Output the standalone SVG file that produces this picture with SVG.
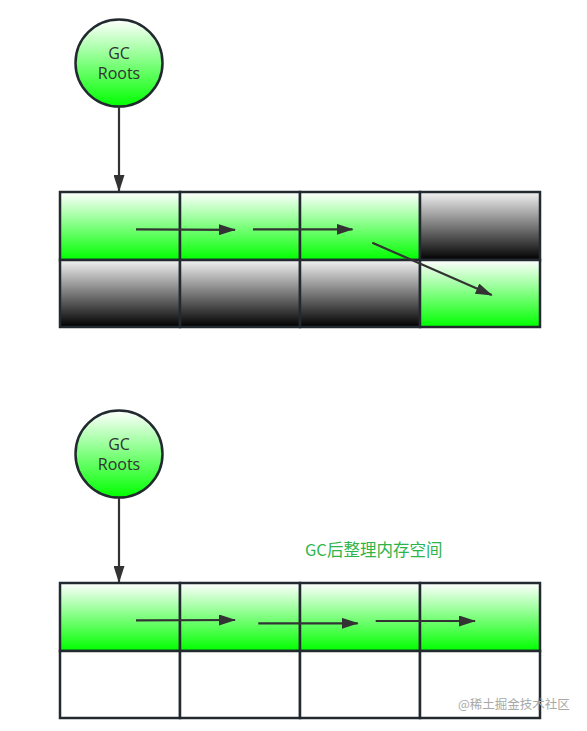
<svg xmlns="http://www.w3.org/2000/svg" width="587" height="731" viewBox="0 0 587 731">
<style>
.cell{stroke:#222a30;stroke-width:2.5}
.g{fill:url(#gGreen)}
.k{fill:url(#gGray)}
.w{fill:#ffffff}
.node{fill:url(#gGreen);stroke:#222a30;stroke-width:2.5}
.lbl{font-family:"Open Sans","Noto Sans",sans-serif;font-size:16px;fill:#333;text-anchor:middle}
.edge{stroke:#333;stroke-width:2.2;fill:none;marker-end:url(#ah)}
</style>
<defs>
<linearGradient id="gGreen" x1="0" y1="0" x2="0" y2="1">
<stop offset="0" stop-color="#ffffff"/>
<stop offset="1" stop-color="#00ff00"/>
</linearGradient>
<linearGradient id="gGray" x1="0" y1="0" x2="0" y2="1">
<stop offset="0" stop-color="#f2f2f2"/>
<stop offset="1" stop-color="#000000"/>
</linearGradient>
<marker id="ah" viewBox="0 0 17 11" refX="16" refY="5.5" markerWidth="17" markerHeight="11" markerUnits="userSpaceOnUse" orient="auto">
<path d="M0,0 L17,5.5 L0,11 z" fill="#333"/>
</marker>
</defs>
<rect width="587" height="731" fill="#ffffff"/>
<g id="roots1">
<circle class="node" cx="119" cy="63" r="43.5"/>
<text class="lbl" x="119" y="59">GC</text>
<text class="lbl" x="119" y="79">Roots</text>
</g>
<g id="heap1">
<rect class="cell g" x="60" y="192" width="120" height="68"/>
<rect class="cell g" x="180" y="192" width="120" height="68"/>
<rect class="cell g" x="300" y="192" width="120" height="68"/>
<rect class="cell k" x="420" y="192" width="120" height="68"/>
<rect class="cell k" x="60" y="260" width="120" height="67"/>
<rect class="cell k" x="180" y="260" width="120" height="67"/>
<rect class="cell k" x="300" y="260" width="120" height="67"/>
<rect class="cell g" x="420" y="260" width="120" height="67"/>
</g>
<g id="roots2">
<circle class="node" cx="119" cy="454" r="43.5"/>
<text class="lbl" x="119" y="450">GC</text>
<text class="lbl" x="119" y="470">Roots</text>
</g>
<g id="heap2">
<rect class="cell g" x="60" y="583" width="120" height="68"/>
<rect class="cell g" x="180" y="583" width="120" height="68"/>
<rect class="cell g" x="300" y="583" width="120" height="68"/>
<rect class="cell g" x="420" y="583" width="120" height="68"/>
<rect class="cell w" x="60" y="651" width="120" height="67"/>
<rect class="cell w" x="180" y="651" width="120" height="67"/>
<rect class="cell w" x="300" y="651" width="120" height="67"/>
<rect class="cell w" x="420" y="651" width="120" height="67"/>
</g>
<g id="connectors">
<line class="edge" x1="119" y1="107" x2="119" y2="191"/>
<line class="edge" x1="136" y1="229.3" x2="235" y2="229.8"/>
<line class="edge" x1="253" y1="229.3" x2="352.5" y2="229.3"/>
<line class="edge" x1="372.3" y1="242.7" x2="491.7" y2="295"/>
<line class="edge" x1="119" y1="498" x2="119" y2="582"/>
<line class="edge" x1="136" y1="620.3" x2="235" y2="620"/>
<line class="edge" x1="258.3" y1="623.3" x2="357.7" y2="623.3"/>
<line class="edge" x1="375.7" y1="621" x2="475" y2="621"/>
</g>
<text x="305" y="556" font-family="'Noto Sans CJK SC','Noto Sans',sans-serif" font-size="16.5" fill="#2db44a">GC后整理内存空间</text>
<text x="458" y="709" font-family="'Noto Sans CJK SC','Noto Sans',sans-serif" font-size="12.5" fill="#a8a8a8">@稀土掘金技术社区</text>
</svg>
